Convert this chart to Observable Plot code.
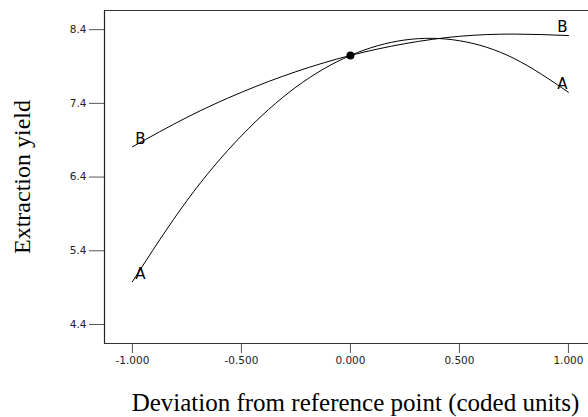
<!DOCTYPE html>
<html>
<head>
<meta charset="utf-8">
<script src="https://cdn.jsdelivr.net/npm/d3@7"></script>
<script src="https://cdn.jsdelivr.net/npm/@observablehq/plot@0.6"></script>
<style>
  html, body { margin: 0; padding: 0; background: #fff; }
  svg { display: block; }
</style>
</head>
<body>
<div id="chart"></div>
<script>
// Coded deviation from the reference point
const deviation = [-1, -0.75, -0.5, -0.25, 0, 0.25, 0.5, 0.75, 1];
// Extraction yield, factor A and factor B
const yieldA = [4.98, 6.08, 6.96, 7.62, 8.05, 8.26, 8.25, 8.01, 7.55];
const yieldB = [6.81, 7.21, 7.55, 7.83, 8.05, 8.21, 8.31, 8.34, 8.32];
const seriesNames = ["A", "B"];
const referencePoint = [{x: 0, y: 8.05}];
const xTicks = [-1, -0.5, 0, 0.5, 1];
const yTicks = [4.4, 5.4, 6.4, 7.4, 8.4];
const xDomain = [-1.128, 1.092];
const yDomain = [4.142, 8.66];
const xLabel = "Deviation from reference point (coded units)";
const yLabel = "Extraction yield";

const rows = [];
seriesNames.forEach((s, i) => {
  const vals = i === 0 ? yieldA : yieldB;
  deviation.forEach((d, j) => rows.push({series: s, x: d, y: vals[j]}));
});
const firstPts = seriesNames.map(s => rows.filter(r => r.series === s)[0]);
const lastPts = seriesNames.map(s => { const r = rows.filter(q => q.series === s); return r[r.length - 1]; });

const sans = "'DejaVu Sans', 'Liberation Sans', sans-serif";
const serif = "'Liberation Serif', 'Times New Roman', Times, serif";

const chart = Plot.plot({
  width: 588,
  height: 417,
  marginLeft: 104,
  marginRight: 0,
  marginTop: 10,
  marginBottom: 74,
  style: {background: "#fff", fontFamily: sans},
  x: {domain: xDomain},
  y: {domain: yDomain},
  marks: [
    Plot.axisX({ticks: xTicks, tickSize: 10, tickPadding: 3, fontSize: 10.5, stroke: "#555",
      tickFormat: d => d.toFixed(3), label: null, fill: "#222", fontFamily: sans}),
    Plot.axisY({ticks: yTicks, tickSize: 15, tickPadding: 3, fontSize: 10.5, stroke: "#555",
      tickFormat: d => d.toFixed(1), label: null, fill: "#222", fontFamily: sans}),
    Plot.ruleX([xDomain[0]], {stroke: "#222", strokeWidth: 1.2}),
    Plot.ruleY([yDomain[0], yDomain[1]], {stroke: "#333", strokeWidth: 1.2}),
    Plot.line(rows, {x: "x", y: "y", z: "series", curve: "natural", stroke: "#000", strokeWidth: 1}),
    Plot.dot(referencePoint, {x: "x", y: "y", r: 4, fill: "#000"}),
    Plot.text(firstPts, {x: "x", y: "y", text: "series", dx: 8, dy: -8, fontSize: 15, fontFamily: sans, fill: "#000"}),
    Plot.text(lastPts, {x: "x", y: "y", text: "series", dx: -6, dy: -8, fontSize: 15, fontFamily: sans, fill: "#000"}),
    Plot.text([yLabel], {frameAnchor: "left", textAnchor: "middle", lineAnchor: "middle", dx: -82, rotate: -90,
      fontSize: 24, fontFamily: serif, fill: "#000"}),
    Plot.text([xLabel], {frameAnchor: "bottom", textAnchor: "middle", lineAnchor: "middle", dx: 9, dy: 59,
      fontSize: 25, fontFamily: serif, fill: "#000"})
  ]
});
document.getElementById("chart").appendChild(chart);
</script>
</body>
</html>
